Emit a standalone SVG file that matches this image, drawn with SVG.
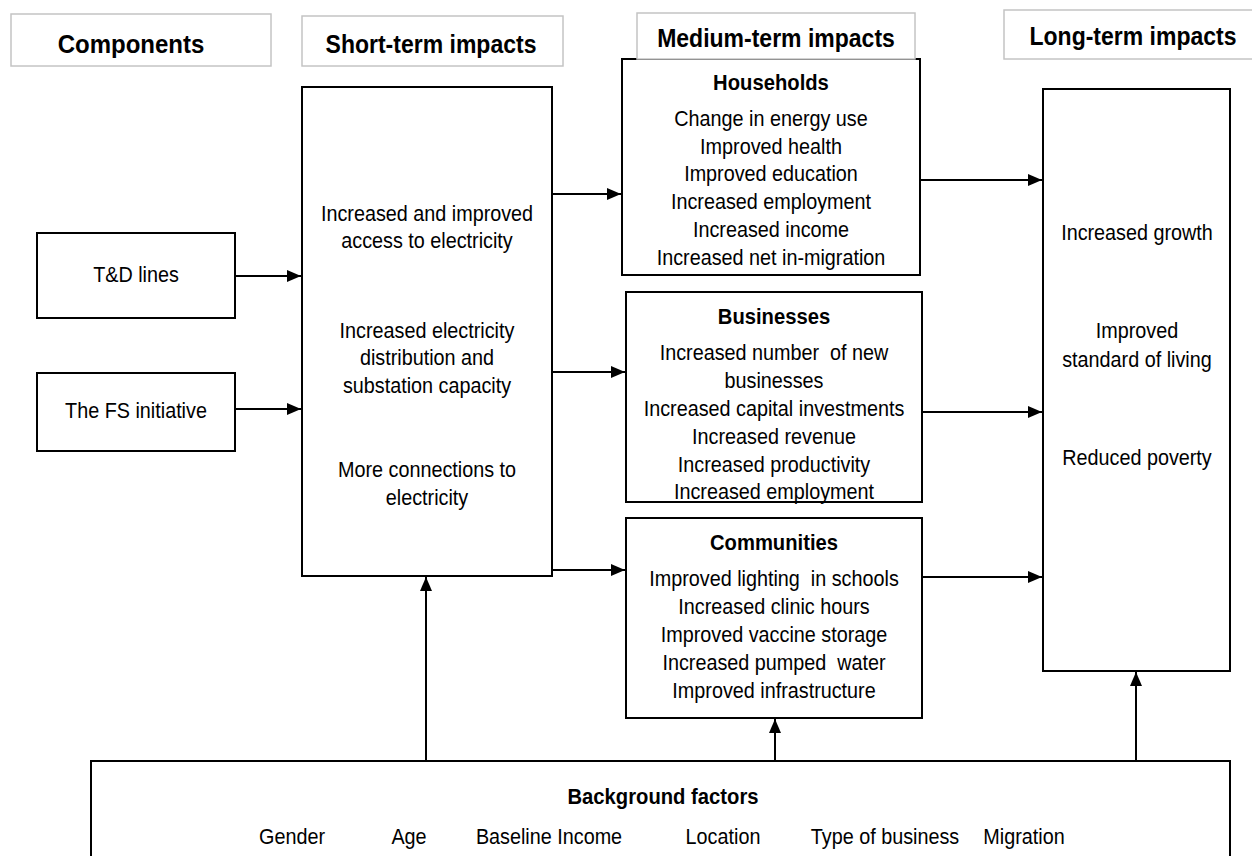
<svg xmlns="http://www.w3.org/2000/svg" width="1252" height="856" viewBox="0 0 1252 856">
  <style>
    .hdr { fill: #ffffff; stroke: #c4c4c4; stroke-width: 1.5; }
    .box { fill: #ffffff; stroke: #000000; stroke-width: 2; }
    .ht { font-family: "Liberation Sans", Arial, sans-serif; font-weight: bold; font-size: 25px; text-anchor: middle; fill: #000; }
    .t { font-family: "Liberation Sans", Arial, sans-serif; font-size: 22px; text-anchor: middle; fill: #000; }
    .tb { font-family: "Liberation Sans", Arial, sans-serif; font-size: 22px; font-weight: bold; text-anchor: middle; fill: #000; }
    .conn line { stroke: #000; stroke-width: 2; fill: none; marker-end: url(#ah); }
  </style>
  <defs>
    <marker id="ah" viewBox="0 0 14 12" refX="14" refY="6" markerWidth="14" markerHeight="12" markerUnits="userSpaceOnUse" orient="auto">
      <path d="M0,0 L14,6 L0,12 Z" fill="#000"/>
    </marker>
  </defs>

  <g id="hdr-components">
    <rect class="hdr" x="11" y="14" width="260" height="52"/>
    <text class="ht" transform="translate(131 53) scale(0.96 1)">Components</text>
  </g>
  <g id="hdr-short">
    <rect class="hdr" x="302" y="16" width="261" height="50"/>
    <text class="ht" transform="translate(431 53) scale(0.92 1)">Short-term impacts</text>
  </g>
  <g id="hdr-long">
    <rect class="hdr" x="1004" y="10" width="260" height="49"/>
    <text class="ht" transform="translate(1133 45) scale(0.92 1)">Long-term impacts</text>
  </g>

  <g id="td-lines">
    <rect class="box" x="37" y="233" width="198" height="85"/>
    <text class="t" transform="translate(136 282) scale(0.9 1)">T&amp;D lines</text>
  </g>
  <g id="fs-initiative">
    <rect class="box" x="37" y="373" width="198" height="78"/>
    <text class="t" transform="translate(136 418) scale(0.9 1)">The FS initiative</text>
  </g>

  <g id="short-term">
    <rect class="box" x="302" y="87" width="250" height="489"/>
    <text class="t" transform="translate(427 221) scale(0.9 1)">Increased and improved</text>
    <text class="t" transform="translate(427 248) scale(0.9 1)">access to electricity</text>
    <text class="t" transform="translate(427 338) scale(0.9 1)">Increased electricity</text>
    <text class="t" transform="translate(427 365) scale(0.9 1)">distribution and</text>
    <text class="t" transform="translate(427 393) scale(0.9 1)">substation capacity</text>
    <text class="t" transform="translate(427 477) scale(0.9 1)">More connections to</text>
    <text class="t" transform="translate(427 505) scale(0.9 1)">electricity</text>
  </g>

  <g id="households">
    <rect class="box" x="622" y="59" width="298" height="216"/>
    <text class="tb" transform="translate(771 90) scale(0.92 1)">Households</text>
    <text class="t" transform="translate(771 126) scale(0.9 1)">Change in energy use</text>
    <text class="t" transform="translate(771 154) scale(0.9 1)">Improved health</text>
    <text class="t" transform="translate(771 181) scale(0.9 1)">Improved education</text>
    <text class="t" transform="translate(771 209) scale(0.9 1)">Increased employment</text>
    <text class="t" transform="translate(771 237) scale(0.9 1)">Increased income</text>
    <text class="t" transform="translate(771 265) scale(0.9 1)">Increased net in-migration</text>
  </g>

  <g id="hdr-medium">
    <rect class="hdr" x="637" y="13" width="278" height="46"/>
    <text class="ht" transform="translate(776 47) scale(0.92 1)">Medium-term impacts</text>
  </g>

  <g id="businesses">
    <rect class="box" x="626" y="292" width="296" height="210"/>
    <text class="tb" transform="translate(774 324) scale(0.92 1)">Businesses</text>
    <text class="t" transform="translate(774 360) scale(0.9 1)" xml:space="preserve">Increased number  of new</text>
    <text class="t" transform="translate(774 388) scale(0.9 1)">businesses</text>
    <text class="t" transform="translate(774 416) scale(0.9 1)">Increased capital investments</text>
    <text class="t" transform="translate(774 444) scale(0.9 1)">Increased revenue</text>
    <text class="t" transform="translate(774 472) scale(0.9 1)">Increased productivity</text>
    <text class="t" transform="translate(774 499) scale(0.9 1)">Increased employment</text>
  </g>

  <g id="communities">
    <rect class="box" x="626" y="518" width="296" height="200"/>
    <text class="tb" transform="translate(774 550) scale(0.92 1)">Communities</text>
    <text class="t" transform="translate(774 586) scale(0.9 1)" xml:space="preserve">Improved lighting  in schools</text>
    <text class="t" transform="translate(774 614) scale(0.9 1)">Increased clinic hours</text>
    <text class="t" transform="translate(774 642) scale(0.9 1)">Improved vaccine storage</text>
    <text class="t" transform="translate(774 670) scale(0.9 1)" xml:space="preserve">Increased pumped  water</text>
    <text class="t" transform="translate(774 698) scale(0.9 1)">Improved infrastructure</text>
  </g>

  <g id="long-term">
    <rect class="box" x="1043" y="89" width="187" height="582"/>
    <text class="t" transform="translate(1137 240) scale(0.9 1)">Increased growth</text>
    <text class="t" transform="translate(1137 338) scale(0.9 1)">Improved</text>
    <text class="t" transform="translate(1137 367) scale(0.9 1)">standard of living</text>
    <text class="t" transform="translate(1137 465) scale(0.9 1)">Reduced poverty</text>
  </g>

  <g id="background">
    <rect class="box" x="91" y="761" width="1139" height="110"/>
    <text class="tb" transform="translate(663 804) scale(0.92 1)">Background factors</text>
    <text class="t" transform="translate(292 844) scale(0.9 1)">Gender</text>
    <text class="t" transform="translate(409 844) scale(0.9 1)">Age</text>
    <text class="t" transform="translate(549 844) scale(0.9 1)">Baseline Income</text>
    <text class="t" transform="translate(723 844) scale(0.9 1)">Location</text>
    <text class="t" transform="translate(885 844) scale(0.9 1)">Type of business</text>
    <text class="t" transform="translate(1024 844) scale(0.9 1)">Migration</text>
  </g>

  <g id="connectors" class="conn">
    <line x1="236" y1="276" x2="301" y2="276"/>
    <line x1="236" y1="409" x2="301" y2="409"/>
    <line x1="553" y1="194" x2="621" y2="194"/>
    <line x1="553" y1="372" x2="625" y2="372"/>
    <line x1="553" y1="570" x2="625" y2="570"/>
    <line x1="921" y1="180" x2="1042" y2="180"/>
    <line x1="923" y1="412" x2="1042" y2="412"/>
    <line x1="923" y1="577" x2="1042" y2="577"/>
    <line x1="426" y1="760" x2="426" y2="577"/>
    <line x1="775" y1="760" x2="775" y2="719"/>
    <line x1="1136" y1="760" x2="1136" y2="672"/>
  </g>
</svg>
